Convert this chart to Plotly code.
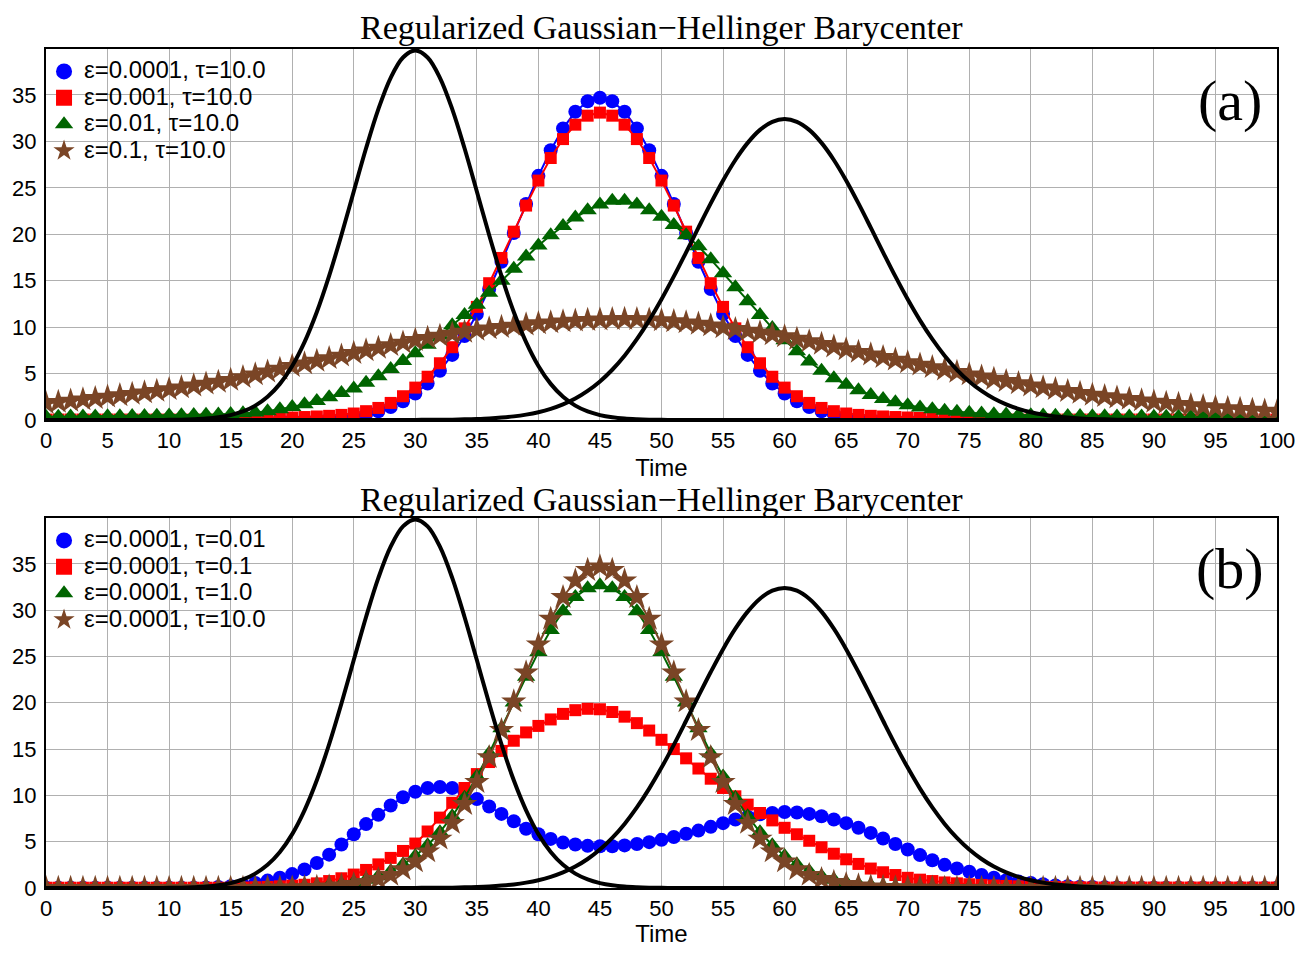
import plotly.graph_objects as go

time = list(range(0, 101))

# source densities (black curves), shared by both panels
source_left = [0]*10 + [0.02, 0.04, 0.08, 0.15, 0.29, 0.53, 0.92, 1.55, 2.50, 3.89,
    5.82, 8.39, 11.63, 15.52, 19.92, 24.61, 29.26, 33.48, 36.85, 39.04,
    39.80, 39.04, 36.85, 33.48, 29.26, 24.61, 19.92, 15.52, 11.63, 8.39,
    5.82, 3.89, 2.50, 1.55, 0.92, 0.53, 0.29, 0.15, 0.08, 0.04, 0.02] + [0]*50

source_right = [0]*30 + [0.01, 0.02, 0.03, 0.04, 0.07, 0.11, 0.17, 0.26, 0.39, 0.58,
    0.84, 1.20, 1.68, 2.31, 3.13, 4.15, 5.41, 6.92, 8.70, 10.73,
    13.00, 15.46, 18.06, 20.71, 23.32, 25.79, 28.00, 29.84, 31.24, 32.11,
    32.40, 32.11, 31.24, 29.84, 28.00, 25.79, 23.32, 20.71, 18.06, 15.46,
    13.00, 10.73, 8.70, 6.92, 5.41, 4.15, 3.13, 2.31, 1.68, 1.20,
    0.84, 0.58, 0.39, 0.26, 0.17, 0.11, 0.07, 0.04, 0.03, 0.02, 0.01] + [0]*10

# eps=0.0001, tau=10.0 (panel a blue == panel b brown)
bary_e0001_t10 = [0]*18 + [0.01, 0.02, 0.03, 0.06, 0.10, 0.16, 0.26, 0.41, 0.63, 0.95,
    1.40, 2.02, 2.85, 3.93, 5.31, 7.01, 9.05, 11.42, 14.11, 17.04,
    20.13, 23.26, 26.29, 29.05, 31.40, 33.19, 34.32, 34.70, 34.32, 33.19,
    31.40, 29.05, 26.29, 23.26, 20.13, 17.04, 14.11, 11.42, 9.05, 7.01,
    5.31, 3.93, 2.85, 2.02, 1.40, 0.95, 0.63, 0.41, 0.26, 0.16,
    0.10, 0.06, 0.03, 0.02, 0.01] + [0]*28

bary_e001_t10 = [0.05]*15 + [0.10, 0.12, 0.15, 0.18, 0.22, 0.27, 0.32, 0.38, 0.45, 0.55,
    0.70, 0.95, 1.30, 1.84, 2.56, 3.49, 4.66, 6.11, 7.84, 9.87,
    12.18, 14.73, 17.45, 20.28, 23.09, 25.78, 28.21, 30.25, 31.80, 32.77,
    33.10, 32.77, 31.80, 30.25, 28.21, 25.78, 23.09, 20.28, 17.45, 14.73,
    12.18, 9.87, 7.84, 6.11, 4.66, 3.49, 2.56, 1.84, 1.30, 0.95,
    0.70, 0.55, 0.45, 0.38, 0.32, 0.27, 0.22, 0.18, 0.15, 0.12,
    0.10] + [0.05]*25

bary_e01_t10 = [0.35, 0.36, 0.37, 0.38, 0.39, 0.40, 0.41, 0.42, 0.44, 0.46,
    0.48, 0.50, 0.53, 0.56, 0.60, 0.65, 0.72, 0.82, 0.95, 1.15,
    1.40, 1.70, 2.05, 2.45, 2.90, 3.40, 4.00, 4.70, 5.50, 6.35,
    7.20, 8.10, 9.10, 10.20, 11.30, 12.40, 13.70, 15.00, 16.30, 17.60,
    18.80, 19.90, 20.90, 21.80, 22.60, 23.20, 23.60, 23.60, 23.20, 22.60,
    21.90, 21.00, 19.90, 18.70, 17.30, 15.80, 14.30, 12.80, 11.30, 9.90,
    8.60, 7.40, 6.30, 5.30, 4.50, 3.80, 3.20, 2.70, 2.25, 1.90,
    1.60, 1.35, 1.15, 1.00, 0.88, 0.78, 0.70, 0.63, 0.58, 0.54,
    0.50, 0.48, 0.46, 0.44, 0.42, 0.41, 0.40, 0.39, 0.38, 0.37,
    0.36, 0.36, 0.35, 0.35, 0.34, 0.34, 0.33, 0.33, 0.32, 0.32, 0.31]

bary_e1_t10 = [1.80, 1.93, 2.06, 2.20, 2.35, 2.50, 2.65, 2.80, 2.95, 3.12,
    3.30, 3.50, 3.70, 3.90, 4.10, 4.30, 4.60, 4.90, 5.20, 5.50,
    5.80, 6.08, 6.36, 6.64, 6.92, 7.20, 7.48, 7.76, 8.04, 8.32,
    8.60, 8.83, 9.05, 9.27, 9.48, 9.70, 9.85, 10.00, 10.14, 10.27,
    10.40, 10.50, 10.60, 10.68, 10.75, 10.80, 10.85, 10.87, 10.85, 10.80,
    10.72, 10.62, 10.50, 10.35, 10.17, 9.97, 9.78, 9.60, 9.41, 9.21,
    9.00, 8.73, 8.46, 8.18, 7.89, 7.60, 7.32, 7.04, 6.76, 6.48,
    6.20, 5.94, 5.68, 5.42, 5.16, 4.90, 4.66, 4.42, 4.18, 3.94,
    3.70, 3.50, 3.30, 3.10, 2.90, 2.70, 2.55, 2.40, 2.25, 2.10,
    1.95, 1.83, 1.71, 1.59, 1.47, 1.35, 1.26, 1.17, 1.08, 0.99, 0.90]

bary_e0001_t001 = [0.02]*13 + [0.05, 0.10, 0.20, 0.35, 0.55, 0.80, 1.10,
    1.50, 2.00, 2.70, 3.60, 4.70, 5.80, 6.90, 7.90, 8.90, 9.80,
    10.40, 10.80, 10.90, 10.80, 10.30, 9.60, 8.80, 8.00, 7.20, 6.40,
    5.80, 5.30, 4.90, 4.70, 4.55, 4.50, 4.50, 4.60, 4.75, 4.95,
    5.20, 5.50, 5.85, 6.20, 6.60, 7.00, 7.40, 7.70, 7.95, 8.10,
    8.20, 8.15, 8.00, 7.75, 7.40, 7.00, 6.50, 5.95, 5.35, 4.75,
    4.15, 3.55, 3.00, 2.50, 2.10, 1.75, 1.40, 1.10, 0.85, 0.70,
    0.55, 0.40, 0.28, 0.20, 0.14, 0.10, 0.07, 0.05] + [0.03]*13

bary_e0001_t01 = [0.03]*16 + [0.05, 0.08, 0.12, 0.18,
    0.25, 0.35, 0.50, 0.75, 1.05, 1.45, 1.95, 2.55, 3.25, 4.00,
    4.80, 6.10, 7.60, 9.20, 10.80, 12.30, 13.60, 14.80, 15.90, 16.80,
    17.50, 18.20, 18.80, 19.20, 19.35, 19.30, 19.00, 18.50, 17.80, 17.00,
    16.00, 15.00, 14.00, 12.90, 11.80, 10.80, 9.90, 9.00, 8.10, 7.30,
    6.50, 5.80, 5.10, 4.40, 3.70, 3.10, 2.60, 2.10, 1.70, 1.40,
    1.10, 0.90, 0.75, 0.60, 0.50, 0.40, 0.33, 0.27, 0.22, 0.18,
    0.15, 0.12, 0.10, 0.08, 0.07, 0.06] + [0.05]*15

bary_e0001_t1 = [0]*17 + [0.01, 0.02, 0.04, 0.06, 0.10, 0.16, 0.26, 0.40, 0.60, 0.89,
    1.28, 1.82, 2.53, 3.45, 4.61, 6.03, 7.75, 9.75, 12.03, 14.55,
    17.24, 20.03, 22.81, 25.47, 27.86, 29.88, 31.42, 32.37, 32.70, 32.37,
    31.42, 29.88, 27.86, 25.47, 22.81, 20.03, 17.24, 14.55, 12.03, 9.75,
    7.75, 6.03, 4.61, 3.45, 2.53, 1.82, 1.28, 0.89, 0.60, 0.40,
    0.26, 0.16, 0.10, 0.06, 0.04, 0.02, 0.01] + [0]*27

legend_a = ["ε=0.0001, τ=10.0", "ε=0.001, τ=10.0", "ε=0.01, τ=10.0", "ε=0.1, τ=10.0"]
legend_b = ["ε=0.0001, τ=0.01", "ε=0.0001, τ=0.1", "ε=0.0001, τ=1.0", "ε=0.0001, τ=10.0"]
series_a = [bary_e0001_t10, bary_e001_t10, bary_e01_t10, bary_e1_t10]
series_b = [bary_e0001_t001, bary_e0001_t01, bary_e0001_t1, bary_e0001_t10]

colors = ["#0000ff", "#ff0000", "#006400", "#7a4526"]
symbols = ["circle", "square", "triangle-up", "star"]
msizes = [14, 12, 16, 19]

title_text = "Regularized Gaussian\u2212Hellinger Barycenter"

fig = go.Figure()

def add_panel(series, names, xa, ya, legend):
    for s, n, c, sym, ms in zip(series, names, colors, symbols, msizes):
        fig.add_trace(go.Scatter(x=time, y=s, mode="lines+markers", xaxis=xa, yaxis=ya,
                                 line=dict(color=c, width=2),
                                 marker=dict(symbol=sym, size=ms, color=c, line=dict(width=0)),
                                 showlegend=False, hoverinfo="skip"))
    for src in (source_left, source_right):
        fig.add_trace(go.Scatter(x=time, y=src, mode="lines", xaxis=xa, yaxis=ya,
                                 line=dict(color="black", width=4, shape="spline"),
                                 showlegend=False, hoverinfo="skip"))
    for n, c, sym, ms in zip(names, colors, symbols, msizes):
        fig.add_trace(go.Scatter(x=[None], y=[None], mode="markers", xaxis=xa, yaxis=ya,
                                 marker=dict(symbol=sym, size=ms + 4, color=c),
                                 name="<span style='font-size:24px'>" + n + "</span>",
                                 legend=legend, showlegend=True))

add_panel(series_a, legend_a, "x", "y", "legend")
add_panel(series_b, legend_b, "x2", "y2", "legend2")

axis_common = dict(showline=True, linecolor="black", linewidth=2, mirror=True, automargin=False,
                   showgrid=True, gridcolor="#b0b0b0", gridwidth=1.2, zeroline=False,
                   ticks="", tickfont=dict(family="Liberation Sans", size=22, color="black"))

def x_axis(standoff):
    return dict(range=[0, 100], tickmode="linear", tick0=0, dtick=5,
                title=dict(text="Time", font=dict(family="Liberation Sans", size=24, color="black"),
                           standoff=standoff),
                **axis_common)

yt = dict(range=[0, 39.95], tickmode="linear", tick0=0, dtick=5, ticklabelstandoff=3, **axis_common)

# page body has an 8px margin: paper is offset by (8, 8)
fig.update_layout(
    width=1293, height=939,
    margin=dict(l=38, r=24, t=41, b=59),
    plot_bgcolor="white", paper_bgcolor="white",
    xaxis=dict(domain=[0, 1], anchor="y", **x_axis(7)),
    yaxis=dict(domain=[0.5578, 1], anchor="x", **yt),
    xaxis2=dict(domain=[0, 1], anchor="y2", **x_axis(13)),
    yaxis2=dict(domain=[0, 0.441], anchor="x2", **yt),
    legend=dict(x=-0.0016, y=0.995, xanchor="left", yanchor="top", bgcolor="rgba(0,0,0,0)",
                font=dict(family="Liberation Sans", size=18, color="black"),
                itemwidth=30, tracegroupgap=0),
    legend2=dict(x=-0.0016, y=0.436, xanchor="left", yanchor="top", bgcolor="rgba(0,0,0,0)",
                 font=dict(family="Liberation Sans", size=18, color="black"),
                 itemwidth=30, tracegroupgap=0),
    annotations=[
        dict(text=title_text, x=0.5, y=1.026, xref="paper", yref="paper", showarrow=False,
             xanchor="center", yanchor="middle",
             font=dict(family="Liberation Serif", size=34, color="black")),
        dict(text=title_text, x=0.5, y=0.4635, xref="paper", yref="paper", showarrow=False,
             xanchor="center", yanchor="middle",
             font=dict(family="Liberation Serif", size=34, color="black")),
        dict(text="(a)", x=0.962, y=0.939, xref="paper", yref="paper", showarrow=False,
             xanchor="center", yanchor="middle",
             font=dict(family="Liberation Serif", size=58, color="black")),
        dict(text="(b)", x=0.962, y=0.381, xref="paper", yref="paper", showarrow=False,
             xanchor="center", yanchor="middle",
             font=dict(family="Liberation Serif", size=58, color="black")),
    ],
)

fig.write_html("out.html")
